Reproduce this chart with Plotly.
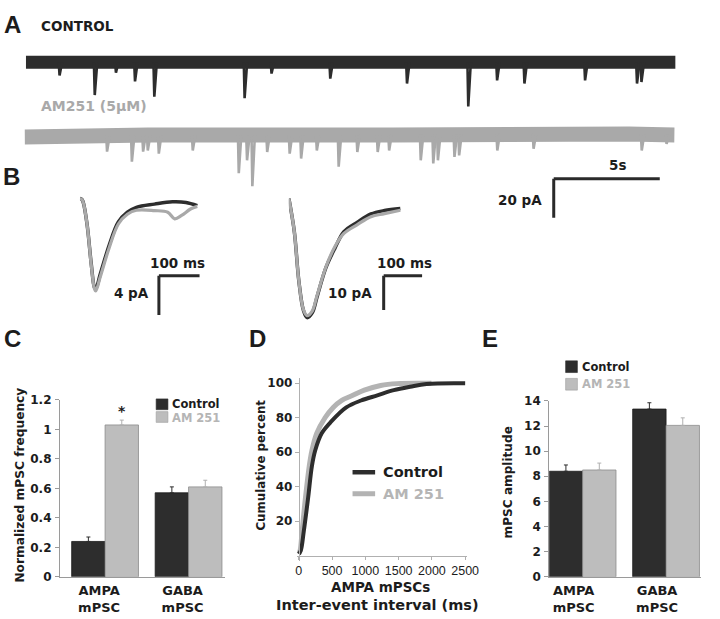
import numpy as np
import plotly.graph_objects as go

W, H = 720, 619
def fx(x): return x / W
def fy(y): return 1 - y / H

DARK = "#2d2d2d"
LIGHT = "#bdbdbd"
TRACE_LIGHT = "#a9a9a9"
AXIS = "#9a9a9a"
TXT = "#1c1c1c"
HEAVY = "DejaVu Sans"
PLAIN = "Liberation Sans, Arial, sans-serif"

# ---------------- data ----------------
# Panel A: continuous recordings (time in s, current in pA)
rec_duration_s = 30.65
ctrl_base_t = [0.0, 30.65]
ctrl_base_pA = [0.0, 0.0]
ctrl_event_t = [1.59, 3.25, 4.25, 5.15, 6.06, 10.32, 11.59, 14.36, 17.98, 20.87,
                22.23, 23.52, 26.38, 28.83, 29.04]
ctrl_event_peak_pA = [-6.8, -16.8, -5.3, -9.8, -17.6, -18.4, -5.8, -8.4, -10.9, -22.6,
                      -9.3, -10.9, -9.3, -10.9, -10.1]
am_base_t = [0.0, 5.83, 17.4, 24.8, 26.7, 28.5, 30.65]
am_base_pA = [-1.0, 0.0, 0.0, 0.8, 1.6, 0.5, 0.0]
am_event_t = [3.89, 5.06, 5.59, 5.81, 6.33, 7.93, 10.10, 10.49, 10.74, 11.44, 12.50,
              13.04, 13.78, 14.81, 15.69, 16.65, 17.19, 18.68, 19.27, 19.49, 20.27,
              20.49, 22.29, 24.0, 29.1, 30.27]
am_event_peak_pA = [-8.5, -13.6, -8.5, -7.9, -9.5, -7.9, -19.5, -12.9, -26.2, -8.7, -9.5,
                    -12.0, -7.9, -16.2, -8.7, -8.7, -7.9, -12.9, -14.5, -12.9, -11.2,
                    -10.4, -7.9, -7.0, -7.9, -4.5]
scale_A_time_s = 5
scale_A_current_pA = 20

# Panel B: averaged mPSCs (time in ms, current in pA)
ampa_t_ms = [0, 5.6, 16.7, 27.8, 35.5, 38.9, 50, 72.2, 94.4, 116.7, 138.9, 183.3, 227.5, 260.9, 288.6]
ampa_ctrl_pA = [0, -0.13, -2.4, -6.7, -9.07, -9.23, -7.73, -4.73, -2.4, -1.4, -0.9, -0.57, -0.33, -0.4, -0.73]
ampa_am_t_ms = [0, 5.6, 16.7, 27.8, 35.5, 38.9, 50, 72.2, 94.4, 116.7, 138.9, 183, 216, 233, 250, 272, 288.6]
ampa_am_pA = [0, -0.13, -2.4, -6.8, -9.2, -9.45, -8.0, -5.0, -2.6, -1.6, -1.2, -1.23, -1.4, -2.07, -1.73, -1.07, -0.8]
gaba_t_ms = [0, 14.1, 25.8, 37.6, 47.1, 61.1, 72.9, 96.4, 119.9, 143.2, 178.3, 213.6, 248.9, 290.1]
gaba_ctrl_pA = [0, -9.7, -24, -32.6, -34.8, -33.3, -28.9, -20.2, -14.5, -9.7, -6.9, -4.5, -3.5, -2.9]
gaba_am_pA = [0, -9.7, -24, -32.4, -34.2, -32.8, -28.5, -20.0, -14.0, -10.2, -7.6, -5.3, -4.4, -3.4]
scale_B_time_ms = 100
scale_B_ampa_pA = 4
scale_B_gaba_pA = 10

# Panel C: normalized mPSC frequency
categories = ["AMPA<br>mPSC", "GABA<br>mPSC"]
freq_ctrl = [0.24, 0.57]
freq_ctrl_err = [0.03, 0.04]
freq_am = [1.03, 0.61]
freq_am_err = [0.033, 0.045]

# Panel D: cumulative distribution of AMPA inter-event intervals
ctrl_isi_ms = [0, 30, 74, 138, 197, 246, 344, 492, 713, 935, 1180, 1427, 1673, 1919, 2500]
ctrl_cum_pct = [1, 3, 14, 33, 52, 61, 71, 78, 86, 90, 93, 96, 98, 99.6, 100]
am_isi_ms = [0, 20, 49, 98, 157, 197, 270, 394, 517, 640, 812, 984, 1230, 1476, 1993]
am_cum_pct = [1, 3, 14, 33, 52, 61, 71, 80, 86, 90, 93, 96, 98.7, 99.8, 100]

# Panel E: mPSC amplitude
amp_ctrl = [8.4, 13.35]
amp_ctrl_err = [0.5, 0.5]
amp_am = [8.5, 12.05]
amp_am_err = [0.55, 0.6]

# ---------------- figure ----------------
fig = go.Figure()

def spikes(base_t, base_pA, ev_t, ev_peak):
    xs, ys = [], []
    for t, p in zip(ev_t, ev_peak):
        b = float(np.interp(t, base_t, base_pA))
        xs += [t - 0.04, t, t + 0.12, None]
        ys += [b, p, b, None]
    return xs, ys

def line(x, y, color, width, xa, ya, opacity=1.0, shape="linear"):
    fig.add_trace(go.Scatter(x=x, y=y, mode="lines", opacity=opacity,
                             line=dict(color=color, width=width, shape=shape),
                             xaxis=xa, yaxis=ya, showlegend=False, hoverinfo="skip"))

# A: control
line(ctrl_base_t, ctrl_base_pA, DARK, 13, "x", "y")
sx, sy = spikes(ctrl_base_t, ctrl_base_pA, ctrl_event_t, ctrl_event_peak_pA)
line(sx, sy, DARK, 2.6, "x", "y")
# A: AM251
line(am_base_t, am_base_pA, TRACE_LIGHT, 15, "x2", "y2")
sx, sy = spikes(am_base_t, am_base_pA, am_event_t, am_event_peak_pA)
line(sx, sy, TRACE_LIGHT, 2.6, "x2", "y2")

# B
line(ampa_t_ms, ampa_ctrl_pA, DARK, 3.5, "x3", "y3", shape="spline")
line(ampa_am_t_ms, ampa_am_pA, TRACE_LIGHT, 3.2, "x3", "y3", shape="spline")
line(gaba_t_ms, gaba_ctrl_pA, DARK, 3.5, "x4", "y4", shape="spline")
line(gaba_t_ms, gaba_am_pA, TRACE_LIGHT, 3.2, "x4", "y4", shape="spline")

def bars(y, err, name, color, edge, errcolor, xa, ya):
    fig.add_trace(go.Bar(x=categories, y=y, name=name,
                         marker=dict(color=color, line=dict(color=edge, width=0.8)),
                         error_y=dict(type="data", array=err, arrayminus=[0] * len(err), symmetric=False,
                                      color=errcolor, thickness=1, width=2),
                         xaxis=xa, yaxis=ya, showlegend=False, hoverinfo="skip"))

# C bars
bars(freq_ctrl, freq_ctrl_err, "Control", DARK, "#1a1a1a", DARK, "x5", "y5")
bars(freq_am, freq_am_err, "AM 251", LIGHT, "#8c8c8c", "#b0b0b0", "x5", "y5")

# D curves
line(am_isi_ms, am_cum_pct, "#b3b3b3", 5, "x6", "y6", shape="spline")
line(ctrl_isi_ms, ctrl_cum_pct, DARK, 4, "x6", "y6", shape="spline")

# E bars
bars(amp_ctrl, amp_ctrl_err, "Control", DARK, "#1a1a1a", DARK, "x7", "y7")
bars(amp_am, amp_am_err, "AM 251", LIGHT, "#8c8c8c", "#b0b0b0", "x7", "y7")

hidden = dict(visible=False, showgrid=False, zeroline=False, fixedrange=True)
tickfont_b = dict(family=HEAVY, size=12, color=TXT, weight="bold")
cat_font = dict(family=HEAVY, size=13, color=TXT, weight="bold")

layout = dict(
    width=W, height=H, margin=dict(l=0, r=0, t=0, b=0),
    paper_bgcolor="white", plot_bgcolor="rgba(0,0,0,0)",
    barmode="group", bargap=0.2, bargroupgap=0.0,
    showlegend=False,
    xaxis=dict(domain=[fx(25.3), fx(687)], range=[0, rec_duration_s], anchor="y", **hidden),
    yaxis=dict(domain=[fy(116.5), fy(36.5)], range=[-30, 10], anchor="x", **hidden),
    xaxis2=dict(domain=[fx(24), fx(686)], range=[0, rec_duration_s], anchor="y2", **hidden),
    yaxis2=dict(domain=[fy(221), fy(111)], range=[-45, 10], anchor="x2", **hidden),
    xaxis3=dict(domain=[fx(80.4), fx(204.6)], range=[0, 300], anchor="y3", **hidden),
    yaxis3=dict(domain=[fy(326), fy(176)], range=[-13, 2], anchor="x3", **hidden),
    xaxis4=dict(domain=[fx(293.2), fx(434.0)], range=[0, 360], anchor="y4", **hidden),
    yaxis4=dict(domain=[fy(329), fy(178.5)], range=[-38, 5], anchor="x4", **hidden),
    xaxis5=dict(domain=[fx(60), fx(228)], type="category", range=[-0.541, 1.435], anchor="y5",
                showline=True, linecolor=AXIS, linewidth=1, ticks="", showgrid=False, zeroline=False,
                tickfont=cat_font, ticklabelshift=-6, ticklabelstandoff=2, fixedrange=True),
    yaxis5=dict(domain=[fy(583), fy(402)], range=[0, 1.2], dtick=0.2, anchor="x5",
                showline=True, linecolor=AXIS, linewidth=1, ticks="outside", ticklen=4, tickcolor=AXIS,
                showgrid=False, zeroline=False, tickfont=tickfont_b, ticklabelstandoff=1, fixedrange=True),
    xaxis6=dict(domain=[fx(301.27), fx(474.73)], range=[-30, 2530], anchor="free", position=fy(561.5),
                tickvals=[0, 500, 1000, 1500, 2000, 2500], showline=True, linecolor="#b0b0b0", linewidth=1,
                ticks="outside", ticklen=3, tickcolor="#b0b0b0", showgrid=False, zeroline=False,
                tickfont=dict(family=PLAIN, size=12.5, color=TXT), fixedrange=True),
    yaxis6=dict(domain=[fy(566.6), fy(379.7)], range=[-3, 103], anchor="free", position=fx(303.3),
                tickvals=[20, 40, 60, 80, 100], showline=True, linecolor="#b0b0b0", linewidth=1,
                ticks="outside", ticklen=4, tickcolor="#b0b0b0", showgrid=False, zeroline=False,
                tickfont=dict(family=HEAVY, size=12, color=TXT, weight="bold"), fixedrange=True),
    xaxis7=dict(domain=[fx(558.3), fx(713)], type="category", range=[-0.4, 1.42], anchor="y7",
                showline=True, linecolor=AXIS, linewidth=1, ticks="", showgrid=False, zeroline=False,
                tickfont=cat_font, ticklabelshift=-9, ticklabelstandoff=2, fixedrange=True),
    yaxis7=dict(domain=[fy(583), fy(403)], range=[0, 14], dtick=2, anchor="x7",
                showline=True, linecolor=AXIS, linewidth=1, ticks="outside", ticklen=4, tickcolor=AXIS,
                showgrid=False, zeroline=False, tickfont=tickfont_b, ticklabelstandoff=1, fixedrange=True),
)
fig.update_layout(**layout)

# scale bars (lengths come from the data constants above)
def scale_bar(xref, yref, x0, y0, dx, dy):
    ln = dict(color="#2a2a2a", width=3)
    fig.add_shape(type="line", xref=xref, yref=yref, x0=x0, y0=y0, x1=x0 + dx, y1=y0, line=ln)
    fig.add_shape(type="line", xref=xref, yref=yref, x0=x0, y0=y0, x1=x0, y1=y0 - dy, line=ln)

scale_bar("x2", "y2", 24.95, -22.35, scale_A_time_s, scale_A_current_pA)
scale_bar("x3", "y3", 194.2, -7.9, scale_B_time_ms, scale_B_ampa_pA)
scale_bar("x4", "y4", 246.8, -22.57, scale_B_time_ms, scale_B_gaba_pA)

# legend symbols (drawn as shapes)
def rect(x0, y0, x1, y1, color, edge):
    fig.add_shape(type="rect", xref="paper", yref="paper", x0=fx(x0), x1=fx(x1), y0=fy(y1), y1=fy(y0),
                  fillcolor=color, line=dict(color=edge, width=0.6))
rect(158, 401, 170, 412, DARK, DARK)
rect(158, 414, 170, 425, LIGHT, "#a0a0a0")
rect(575, 362, 587, 374, DARK, DARK)
rect(575, 380, 587, 392, LIGHT, "#a0a0a0")
fig.add_shape(type="line", xref="paper", yref="paper", x0=fx(358), x1=fx(381), y0=fy(476), y1=fy(476),
              line=dict(color=DARK, width=4.5))
fig.add_shape(type="line", xref="paper", yref="paper", x0=fx(358), x1=fx(381), y0=fy(498), y1=fy(498),
              line=dict(color="#b3b3b3", width=5))

def ann(text, x, y, size=12, color=TXT, family=HEAVY, bold=True, xanchor="center", angle=0):
    fig.add_annotation(text=text, x=fx(x), y=fy(y), xref="paper", yref="paper", showarrow=False,
                       xanchor=xanchor, yanchor="middle", textangle=angle, borderpad=0,
                       font=dict(family=family, size=size, color=color, weight="bold" if bold else "normal"))

# panel letters
for letter, x, y in [("A", 12, 18), ("B", 11, 173), ("C", 12, 339), ("D", 261, 339), ("E", 498, 339)]:
    ann(letter, x, y, size=24, family=PLAIN)

ann("CONTROL", 40, 19, size=13.5, xanchor="left")
ann("AM251 (5\u03bcM)", 40, 101, size=14, color=TRACE_LIGHT, xanchor="left")
ann("5s", 628, 161.5, size=13.5)
ann("20 pA", 528.5, 197, size=13.5)
ann("100 ms", 180, 262, size=13.5)
ann("4 pA", 133, 293, size=13.5)
ann("100 ms", 411, 262, size=13.5)
ann("10 pA", 355, 293, size=13.5)

# C
ann("Normalized mPSC frequency", 19, 489, size=12.2, angle=-90)
ann("*", 123, 413, size=14)
ann("Control", 173, 406.5, size=11.5, xanchor="left")
ann("AM 251", 173, 420.5, size=11.5, color="#b5b5b5", xanchor="left")
# D
ann("Cumulative percent", 265, 469, size=11.8, angle=-90)
ann("Control", 388, 476, size=14.5, xanchor="left")
ann("AM 251", 388, 498.5, size=14.5, color="#b5b5b5", xanchor="left")
ann("AMPA mPSCs", 386.7, 593.5, size=13.5)
ann("Inter-event interval (ms)", 383, 611.5, size=14.5)
# E
ann("mPSC amplitude", 516.7, 486, size=12.1, angle=-90)
ann("Control", 591, 368, size=11.5, xanchor="left")
ann("AM 251", 591, 386, size=11.5, color="#b5b5b5", xanchor="left")

fig.write_html("out.html", config={"displayModeBar": False},
               post_script="document.body.style.margin='0';document.body.style.overflow='hidden';")
